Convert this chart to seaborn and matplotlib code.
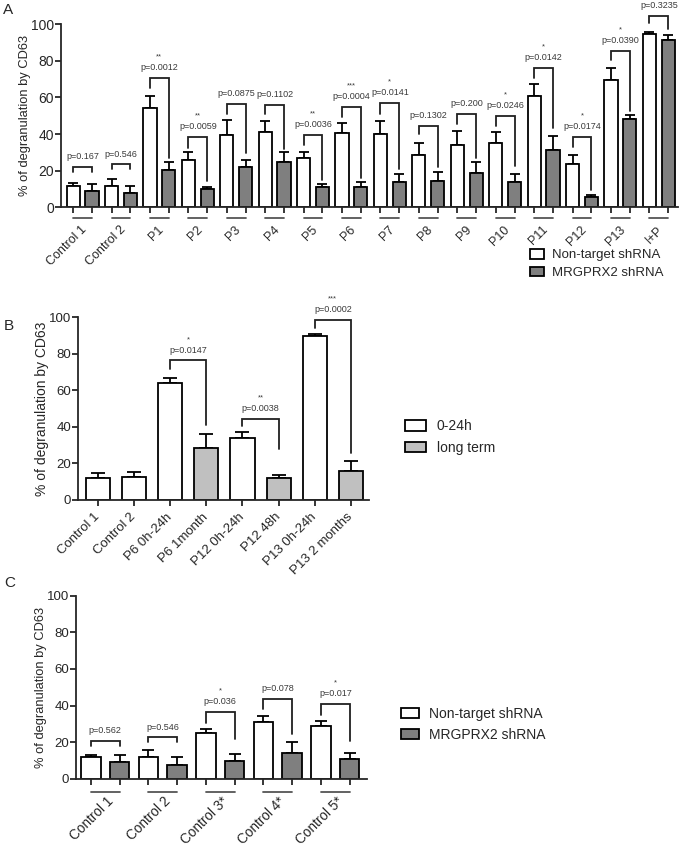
import numpy as np
import pandas as pd
import matplotlib
matplotlib.use('Agg')
import matplotlib.pyplot as plt
import matplotlib.transforms as mtrans
import seaborn as sns

sns.set_style('ticks')
plt.rcParams['font.family'] = ['Liberation Sans', 'DejaVu Sans']

## panel A data
groups_a = ['Control 1', 'Control 2', 'P1', 'P2', 'P3', 'P4', 'P5', 'P6', 'P7', 'P8',
            'P9', 'P10', 'P11', 'P12', 'P13', 'I+P']
nt_a = [11.7, 11.5, 54.5, 25.7, 39.7, 41.0, 26.8, 40.8, 40.0, 28.4, 33.9, 35.0, 61.0, 23.9, 69.4, 94.5]
nt_a_err = [1.4, 4.0, 6.2, 4.4, 8.2, 6.0, 3.6, 5.1, 7.3, 6.9, 7.6, 6.2, 6.4, 4.5, 6.7, 1.3]
kd_a = [8.9, 7.7, 20.2, 9.8, 22.2, 24.8, 10.9, 11.3, 14.0, 14.4, 18.6, 13.7, 31.3, 5.6, 48.3, 91.6]
kd_a_err = [4.0, 4.1, 4.8, 1.3, 3.8, 5.3, 1.8, 2.4, 4.4, 4.7, 6.2, 4.5, 7.8, 1.1, 2.2, 2.4]
p_a = ['p=0.167', 'p=0.546', 'p=0.0012', 'p=0.0059', 'p=0.0875', 'p=0.1102', 'p=0.0036', 'p=0.0004',
       'p=0.0141', 'p=0.1302', 'p=0.200', 'p=0.0246', 'p=0.0142', 'p=0.0174', 'p=0.0390', 'p=0.3235']
stars_a = ['', '', '**', '**', '', '', '**', '***', '*', '', '', '*', '*', '*', '*', '']
# bracket heights: top, left leg end, right leg end
brk_a = [22.2, 23.5, 70.9, 38.6, 56.6, 56.1, 39.5, 54.8, 57.2, 44.6, 51.2, 50.1, 76.3, 38.6, 85.6, 104.7]
brk_a_l = [19.5, 20.8, 65.4, 32.6, 51.2, 50.8, 34.2, 49.5, 51.2, 39.9, 45.7, 44.6, 70.9, 33.2, 80.5, 100.5]
brk_a_r = [19.5, 20.8, 26.8, 14.6, 29.9, 31.7, 15.1, 15.8, 20.9, 22.2, 27.1, 22.8, 43.2, 9.3, 52.6, 97.6]

## panel B data
labels_b = ['Control 1', 'Control 2', 'P6 0h-24h', 'P6 1month', 'P12 0h-24h', 'P12 48h',
            'P13 0h-24h', 'P13 2 months']
vals_b = [12.2, 12.6, 63.7, 28.3, 33.8, 11.9, 89.8, 15.9]
err_b = [2.8, 2.5, 3.1, 8.0, 3.3, 2.0, 0.7, 5.5]
time_b = ['0-24h', '0-24h', '0-24h', 'long term', '0-24h', 'long term', '0-24h', 'long term']
cmp_b = [(2, 3), (4, 5), (6, 7)]
p_b = ['p=0.0147', 'p=0.0038', 'p=0.0002']
stars_b = ['*', '**', '***']
brk_b = [76.3, 44.5, 98.5]
brk_b_l = [71.7, 40.3, 94.0]
brk_b_r = [41.1, 27.7, 25.9]

## panel C data
groups_c = ['Control 1', 'Control 2', 'Control 3*', 'Control 4*', 'Control 5*']
nt_c = [11.7, 11.7, 24.8, 30.8, 28.6]
nt_c_err = [1.4, 3.8, 2.5, 3.6, 2.9]
kd_c = [9.1, 7.7, 9.5, 14.0, 10.6]
kd_c_err = [4.0, 4.1, 4.0, 5.9, 3.6]
p_c = ['p=0.562', 'p=0.546', 'p=0.036', 'p=0.078', 'p=0.017']
stars_c = ['', '', '*', '', '*']
brk_c = [20.6, 22.6, 36.6, 43.7, 40.8]
brk_c_l = [18.0, 19.9, 30.6, 37.9, 34.8]
brk_c_r = [18.0, 19.9, 21.7, 24.2, 20.6]

shrna = ['Non-target shRNA', 'MRGPRX2 shRNA']
LW = 1.3
PCOL = '#3a3a3a'

fig = plt.figure(figsize=(6.85, 8.47), dpi=100)


def style_axis(ax, ytick_size):
    sns.despine(ax=ax)
    for s in ['left', 'bottom']:
        ax.spines[s].set_linewidth(LW)
    ax.set_ylim(0, 100)
    ax.set_yticks([0, 20, 40, 60, 80, 100])
    ax.tick_params(axis='y', length=4, width=LW, labelsize=ytick_size, pad=1)


def shift_labels(ax, dx):
    # nudge the rotated tick labels sideways (dx in points)
    off = mtrans.ScaledTranslation(dx / 72, 0, fig.dpi_scale_trans)
    for lab in ax.get_xticklabels():
        lab.set_transform(lab.get_transform() + off)


def add_errors(ax, x, y, err, cap):
    ax.errorbar(x, y, yerr=[np.zeros(len(err)), err], fmt='none', ecolor='black',
                elinewidth=LW, capsize=cap, capthick=LW, zorder=1)


def add_bracket(ax, x1, x2, top, yl, yr, ptxt, star, fs):
    ax.plot([x1, x1, x2, x2], [yl, top, top, yr], color='#202020', lw=LW, clip_on=False,
            solid_joinstyle='miter')
    xm = (x1 + x2) / 2
    ax.annotate(ptxt, (xm, top), xytext=(0, 5.5), textcoords='offset points', ha='center',
                va='baseline', fontsize=fs, color=PCOL, annotation_clip=False)
    if star:
        ax.annotate(star, (xm, top), xytext=(0, 14), textcoords='offset points', ha='center',
                    va='baseline', fontsize=fs - 1, color=PCOL, annotation_clip=False)


def grouped_panel(ax, groups, nt, nt_err, kd, kd_err, width, gap, cap, line_y, xfs, xpad, dx):
    df = pd.DataFrame({'group': groups * 2,
                       'shRNA': [shrna[0]] * len(groups) + [shrna[1]] * len(groups),
                       'value': nt + kd})
    sns.barplot(data=df, x='group', y='value', hue='shRNA', hue_order=shrna,
                palette=['white', '#7f7f7f'], edgecolor='black', linewidth=LW,
                width=width, gap=gap, errorbar=None, legend=False, ax=ax, zorder=2)
    n = len(groups)
    xs = [p.get_x() + p.get_width() / 2 for p in ax.patches[:2 * n]]
    hs = [p.get_height() for p in ax.patches[:2 * n]]
    xn, xk = xs[:n], xs[n:]
    add_errors(ax, xn, hs[:n], nt_err, cap)
    add_errors(ax, xk, hs[n:], kd_err, cap)
    trans = mtrans.blended_transform_factory(ax.transData, ax.transAxes)
    for a, b in zip(xn, xk):
        ax.plot([a, b], [line_y, line_y], color='#555555', lw=LW, transform=trans, clip_on=False)
    ax.set_xticks(xn + xk, minor=True)
    ax.tick_params(axis='x', which='minor', length=4, width=LW)
    ax.tick_params(axis='x', which='major', length=0, pad=xpad)
    ax.set_xticks(range(n))
    ax.set_xticklabels(groups, rotation=45, ha='right', va='center', rotation_mode='anchor',
                       fontsize=xfs)
    shift_labels(ax, dx)
    ax.set_xlabel('')
    return xn, xk


# ---------------- A
axA = fig.add_axes([0.0891, 0.7553, 0.9007, 0.2160])
xn, xk = grouped_panel(axA, groups_a, nt_a, nt_a_err, kd_a, kd_a_err, 0.98, 0.3, 3.5, -0.058,
                       9, 15, 2)
for i in range(len(groups_a)):
    add_bracket(axA, xn[i], xk[i], brk_a[i], brk_a_l[i], brk_a_r[i], p_a[i], stars_a[i], 6.5)
axA.set_xlim(-0.56, 15.5)
style_axis(axA, 10)
axA.set_ylabel('% of degranulation by CD63', fontsize=9.3, labelpad=0)

# ---------------- B
axB = fig.add_axes([0.1139, 0.4097, 0.4248, 0.2160])
dfb = pd.DataFrame({'condition': labels_b, 'value': vals_b, 'time': time_b})
sns.barplot(data=dfb, x='condition', y='value', hue='time', hue_order=['0-24h', 'long term'],
            palette=['white', '#c0c0c0'], dodge=False, width=0.67, edgecolor='black',
            linewidth=LW, errorbar=None, legend=True, ax=axB, zorder=2)
pb = sorted(axB.patches[:len(labels_b)], key=lambda p: p.get_x())
xb = [p.get_x() + p.get_width() / 2 for p in pb]
hb = [p.get_height() for p in pb]
add_errors(axB, xb, hb, err_b, 5)
for k, (i, j) in enumerate(cmp_b):
    add_bracket(axB, xb[i], xb[j], brk_b[k], brk_b_l[k], brk_b_r[k], p_b[k], stars_b[k], 6.5)
axB.set_xlim(-0.55, 7.5)
axB.set_xticks(range(len(labels_b)))
axB.set_xticklabels(labels_b, rotation=45, ha='right', va='center', rotation_mode='anchor',
                    fontsize=9.5)
shift_labels(axB, 2)
axB.tick_params(axis='x', length=4, width=LW, pad=7)
axB.set_xlabel('')
style_axis(axB, 9.5)
axB.set_ylabel('% of degranulation by CD63', fontsize=10, labelpad=0)
hB, lB = axB.get_legend_handles_labels()
axB.legend(hB, lB, loc='upper left', bbox_to_anchor=(0.591, 0.505), bbox_transform=fig.transFigure,
           frameon=False, fontsize=10, handlelength=1.5, handleheight=0.8, handletextpad=0.8,
           labelspacing=0.55, borderpad=0, borderaxespad=0)

# ---------------- C
axC = fig.add_axes([0.1109, 0.0806, 0.4244, 0.2161])
xn, xk = grouped_panel(axC, groups_c, nt_c, nt_c_err, kd_c, kd_c_err, 1.0, 0.32, 4, -0.073,
                       9.8, 14.5, 4)
for i in range(len(groups_c)):
    add_bracket(axC, xn[i], xk[i], brk_c[i], brk_c_l[i], brk_c_r[i], p_c[i], stars_c[i], 6.5)
axC.set_xlim(-0.51, 4.546)
style_axis(axC, 9.5)
axC.set_ylabel('% of degranulation by CD63', fontsize=9.3, labelpad=0)

# legends for A and C built from the bar artists
hA = [axA.patches[0], axA.patches[len(groups_a)]]
axA.legend(hA, shrna, loc='upper left', bbox_to_anchor=(0.773, 0.706), bbox_transform=fig.transFigure,
           frameon=False, fontsize=9.5, handlelength=1.1, handleheight=0.75, handletextpad=0.6,
           labelspacing=0.4, borderpad=0, borderaxespad=0)
hC = [axC.patches[0], axC.patches[len(groups_c)]]
axC.legend(hC, shrna, loc='upper left', bbox_to_anchor=(0.585, 0.165), bbox_transform=fig.transFigure,
           frameon=False, fontsize=10, handlelength=1.3, handleheight=0.75, handletextpad=0.7,
           labelspacing=0.5, borderpad=0, borderaxespad=0)

# panel letters
fig.text(0.004, 0.988, 'A', fontsize=11, va='center')
fig.text(0.006, 0.615, 'B', fontsize=11, va='center')
fig.text(0.006, 0.312, 'C', fontsize=11, va='center')

fig.savefig('out.png', dpi=100, facecolor='white')
